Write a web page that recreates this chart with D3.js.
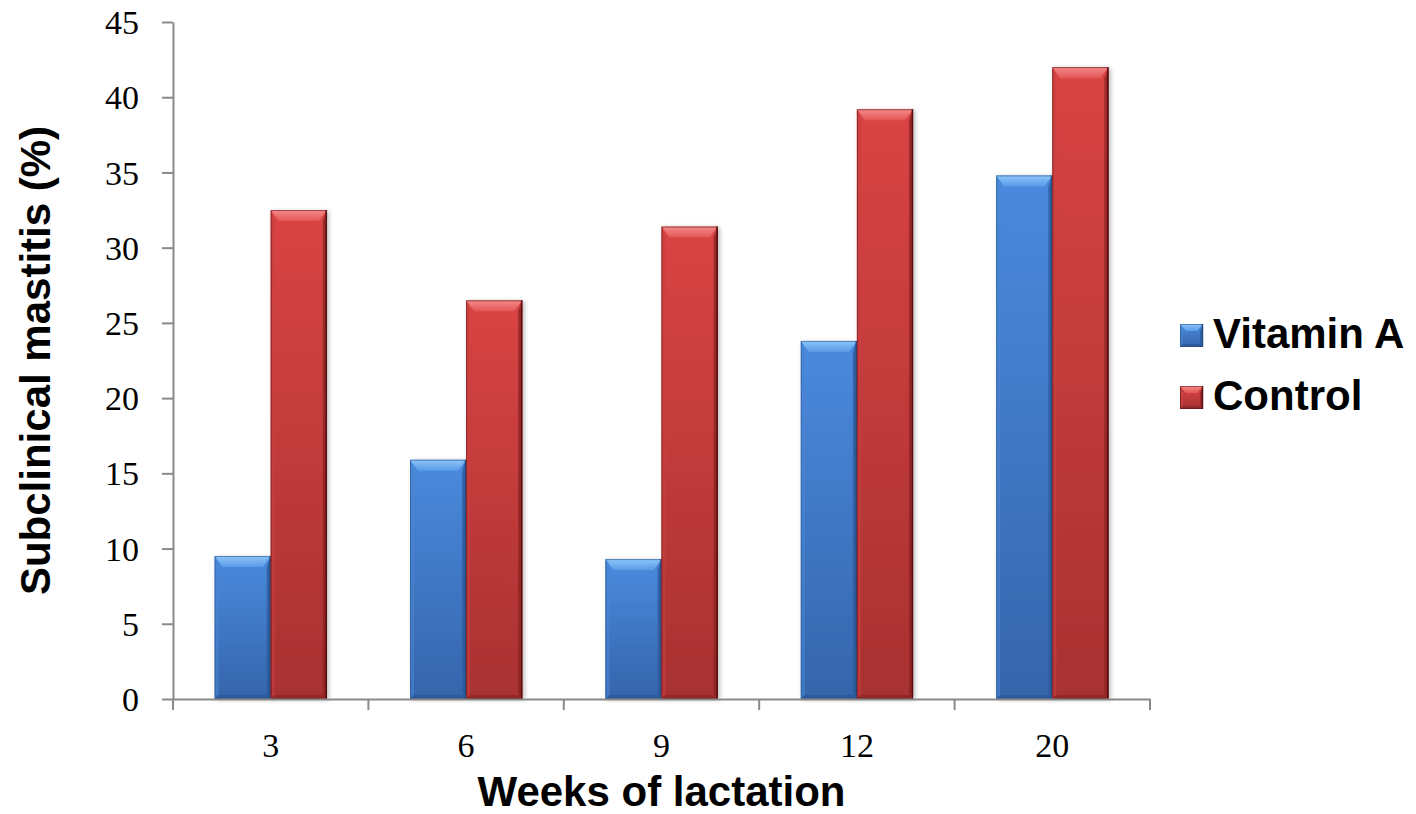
<!DOCTYPE html>
<html>
<head>
<meta charset="utf-8">
<script src="https://cdn.jsdelivr.net/npm/d3@7"></script>
<style>
  html, body { margin: 0; padding: 0; background: #fff; }
  svg { display: block; }
</style>
</head>
<body>
<svg id="chart" width="1416" height="814"></svg>
<script>
// Weeks of lactation on the x axis
const weeks = ["3", "6", "9", "12", "20"];
// Series names
const seriesNames = ["Vitamin A", "Control"];
// Prevalence of subclinical mastitis (%) per week
const vitaminA = [9.5, 15.9, 9.3, 23.8, 34.8];
const control  = [32.5, 26.5, 31.4, 39.2, 42.0];
// Y axis tick values
const yTicks = [0, 5, 10, 15, 20, 25, 30, 35, 40, 45];

const seriesValues = [vitaminA, control];

const svg = d3.select("#chart");

const plotLeft = 173, plotRight = 1150, plotTop = 22, plotBottom = 699;

const x = d3.scaleBand().domain(weeks).range([plotLeft, plotRight]).padding(0);
const barW = x.bandwidth() * 0.287;
const x1 = d3.scaleBand().domain(seriesNames).range([x.bandwidth() / 2 - barW, x.bandwidth() / 2 + barW]).padding(0);
const y = d3.scaleLinear().domain([0, 45]).range([plotBottom, plotTop]);

// Colour sets for the bevelled bars
const palette = {
  "Vitamin A": { top: "#4a8ade", bot: "#3565ab", bevelTop: "#8cc6fa", bevelMid: "#5a9ae6", bevelL: "#4a86d2", bevelR: "#2d5b9c", bevelB: "#2a5593", edge: "#244c86" },
  "Control":   { top: "#da4444", bot: "#a83131", bevelTop: "#f58a8a", bevelMid: "#e25656", bevelL: "#c84040", bevelR: "#8c2424", bevelB: "#8a2323", edge: "#5c0f0f" }
};

const defs = svg.append("defs");
seriesNames.forEach((s, i) => {
  const g = defs.append("linearGradient").attr("id", "grad" + i)
    .attr("x1", 0).attr("y1", 0).attr("x2", 0).attr("y2", 1);
  g.append("stop").attr("offset", "0%").attr("stop-color", palette[s].top);
  g.append("stop").attr("offset", "100%").attr("stop-color", palette[s].bot);
  const gt = defs.append("linearGradient").attr("id", "gradTop" + i)
    .attr("x1", 0).attr("y1", 0).attr("x2", 0).attr("y2", 1);
  gt.append("stop").attr("offset", "0%").attr("stop-color", palette[s].bevelTop);
  gt.append("stop").attr("offset", "100%").attr("stop-color", palette[s].bevelMid);
});
const shadow = defs.append("filter").attr("id", "shadow")
  .attr("x", "-20%").attr("y", "-5%").attr("width", "140%").attr("height", "110%");
shadow.append("feDropShadow").attr("dx", 2).attr("dy", 1).attr("stdDeviation", 2)
  .attr("flood-color", "#000").attr("flood-opacity", 0.25);

// Draws one bevelled box
function bevelBox(g, bx, by, w, h, s, i, bt, bs) {
  const p = palette[s];
  bt = Math.min(bt, h / 2);
  g.append("rect").attr("x", bx).attr("y", by).attr("width", w).attr("height", h)
    .attr("fill", `url(#grad${i})`);
  // left bevel
  g.append("polygon").attr("points", [[bx, by], [bx + bs, by + bt], [bx + bs, by + h - bs], [bx, by + h]].join(" "))
    .attr("fill", p.bevelL).attr("opacity", 0.6);
  // right bevel
  g.append("polygon").attr("points", [[bx + w, by], [bx + w - bs, by + bt], [bx + w - bs, by + h - bs], [bx + w, by + h]].join(" "))
    .attr("fill", p.bevelR).attr("opacity", 0.8);
  // bottom bevel
  g.append("polygon").attr("points", [[bx, by + h], [bx + bs, by + h - bs], [bx + w - bs, by + h - bs], [bx + w, by + h]].join(" "))
    .attr("fill", p.bevelB).attr("opacity", 0.7);
  // top bevel
  g.append("polygon").attr("points", [[bx, by], [bx + w, by], [bx + w - bs * 2, by + bt], [bx + bs * 2, by + bt]].join(" "))
    .attr("fill", `url(#gradTop${i})`);
  // outline
  g.append("rect").attr("x", bx + 0.5).attr("y", by + 0.5).attr("width", w - 1).attr("height", h - 1)
    .attr("fill", "none").attr("stroke", p.edge).attr("stroke-width", 1).attr("opacity", 0.55);
  g.append("line").attr("x1", bx + w - 0.5).attr("x2", bx + w - 0.5).attr("y1", by).attr("y2", by + h)
    .attr("stroke", p.edge).attr("stroke-width", 1.5);
}

// Bars
const barsG = svg.append("g");
weeks.forEach((wk, ci) => {
  seriesNames.forEach((s, si) => {
    const v = seriesValues[si][ci];
    const bx = x(wk) + x1(s);
    const by = y(v);
    const h = y(0) - y(v);
    const g = barsG.append("g").attr("filter", "url(#shadow)");
    bevelBox(g, bx, by, x1.bandwidth(), h, s, si, 11, 4);
  });
});

const axisColor = "#8a8a8a";

// Y axis
const yAxis = svg.append("g").attr("transform", `translate(${plotLeft},0)`)
  .call(d3.axisLeft(y).tickValues(yTicks).tickSize(11).tickSizeOuter(0).tickPadding(23));
yAxis.select(".domain").attr("stroke", axisColor).attr("stroke-width", 2);
yAxis.selectAll(".tick line").attr("stroke", axisColor).attr("stroke-width", 2);
yAxis.selectAll(".tick text")
  .attr("font-family", "'Liberation Serif', 'Times New Roman', serif")
  .attr("font-size", 34).attr("fill", "#000").attr("dy", "0.34em");

// X axis
const xAxis = svg.append("g").attr("transform", `translate(0,${plotBottom})`)
  .call(d3.axisBottom(x).tickSize(0).tickSizeOuter(0));
xAxis.select(".domain").attr("stroke", axisColor).attr("stroke-width", 2);
xAxis.selectAll(".tick text")
  .attr("font-family", "'Liberation Serif', 'Times New Roman', serif")
  .attr("font-size", 34).attr("fill", "#000").attr("y", 58).attr("dy", 0);
// category boundary ticks
const bounds = weeks.map(w => x(w)).concat([x.range()[1]]);
xAxis.selectAll(".bound").data(bounds).enter().append("line")
  .attr("class", "bound")
  .attr("x1", d => d).attr("x2", d => d).attr("y1", 0).attr("y2", 11)
  .attr("stroke", axisColor).attr("stroke-width", 2);

// Axis titles
svg.append("text")
  .attr("x", (plotLeft + plotRight) / 2).attr("y", 806)
  .attr("text-anchor", "middle")
  .attr("font-family", "'Liberation Sans', Arial, sans-serif")
  .attr("font-weight", "bold").attr("font-size", 42)
  .text("Weeks of lactation");

svg.append("text")
  .attr("transform", `translate(50,${(plotTop + plotBottom) / 2}) rotate(-90)`)
  .attr("text-anchor", "middle")
  .attr("font-family", "'Liberation Sans', Arial, sans-serif")
  .attr("font-weight", "bold").attr("font-size", 42)
  .text("Subclinical mastitis (%)");

// Legend
const legend = svg.append("g");
seriesNames.forEach((s, i) => {
  const ly = 348 + i * 62;
  const g = legend.append("g");
  bevelBox(g, 1180, ly - 24, 23, 23, s, i, 7, 3);
  legend.append("text")
    .attr("x", 1213).attr("y", ly)
    .attr("font-family", "'Liberation Sans', Arial, sans-serif")
    .attr("font-weight", "bold").attr("font-size", 42)
    .text(s);
});
</script>
</body>
</html>
